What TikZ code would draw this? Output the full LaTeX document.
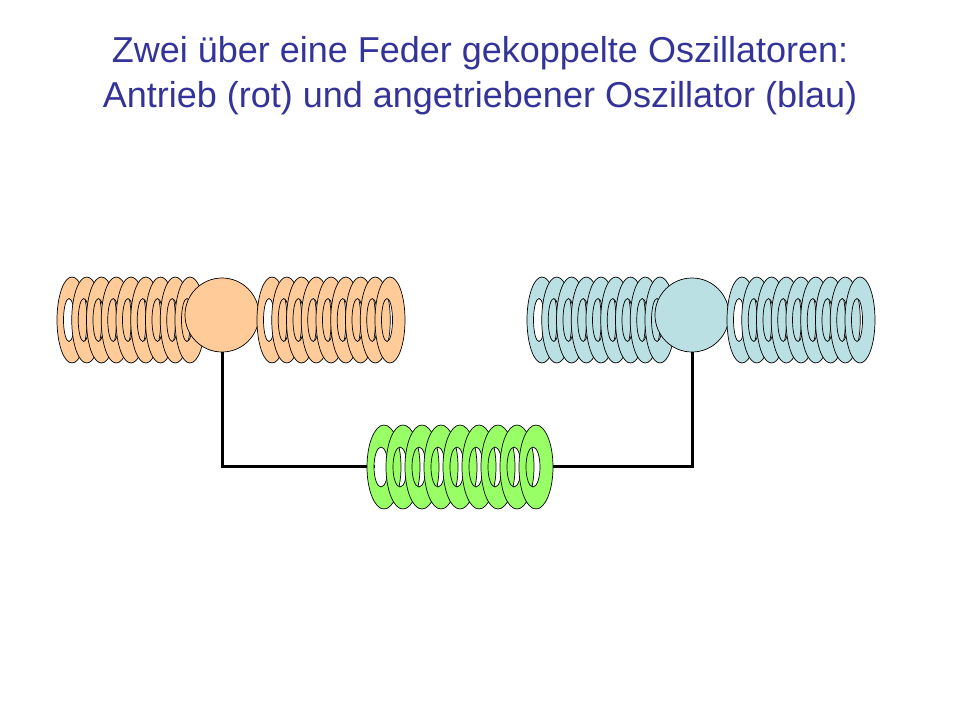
\documentclass[tikz,border=0pt]{standalone}
\usepackage{fontspec}
\setmainfont{Liberation Sans}
\tikzset{
  ring/.style={draw=black, line width=0.7pt, even odd rule},
  ball/.style={circle, draw=black, line width=0.7pt, minimum size=74pt, inner sep=0pt},
  title/.style={text=titleblue, font=\fontsize{36}{45}\selectfont, align=center}
}
\definecolor{titleblue}{RGB}{51,51,153}
\definecolor{orng}{RGB}{255,204,153}
\definecolor{cyanish}{RGB}{187,224,227}
\definecolor{grn}{RGB}{153,255,102}
\newcommand{\coil}[4]{% x0, y0, color, ry
  \foreach \i in {0,...,8} {
    \fill[#3, ring] ({#1+\i*14.75},#2) ellipse (15 and #4)
      ({#1+\i*14.75-3},#2) ellipse (5.5 and {#4*0.5});
  }
}
\begin{document}
\begin{tikzpicture}[x=1pt,y=-1pt]
\useasboundingbox (0,0) rectangle (960,720);
\node[title] (t) at (480,76) {Zwei über eine Feder gekoppelte Oszillatoren:\\Antrieb (rot) und angetriebener Oszillator (blau)};
% red oscillator
\coil{72}{320}{orng}{43}
\node[ball, fill=orng] (lb) at (222,315) {};
\coil{272}{320}{orng}{43}
% blue oscillator
\coil{542}{320}{cyanish}{43}
\node[ball, fill=cyanish] (rb) at (692,315) {};
\coil{742}{320}{cyanish}{43}
% coupling spring
\coordinate (sl) at (375,466);
\coordinate (sr) at (540,466);
\draw[line width=3pt] (lb.south) |- (sl);
\draw[line width=3pt] (rb.south) |- (sr);
\foreach \i in {0,...,8} {
  \fill[grn, ring] ({384+\i*19},467) ellipse (17 and 42)
    ({384+\i*19-3},467) ellipse (7 and 20);
}
\end{tikzpicture}
\end{document}
